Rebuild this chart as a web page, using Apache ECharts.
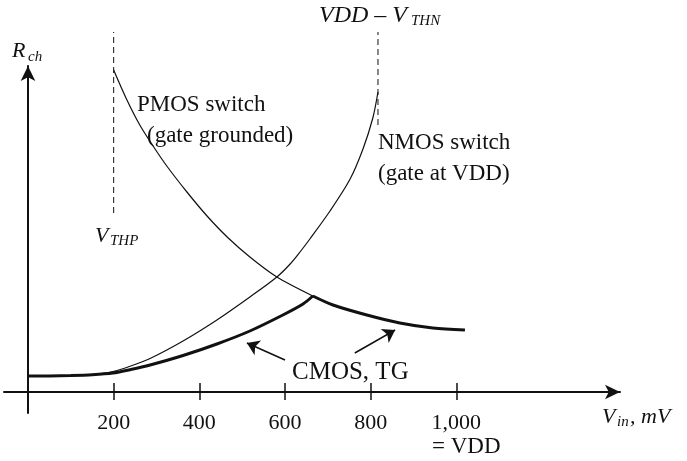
<!DOCTYPE html>
<html>
<head>
<meta charset="utf-8">
<script src="https://cdn.jsdelivr.net/npm/echarts@6/dist/echarts.min.js"></script>
<style>
  html, body { margin: 0; padding: 0; background: #fff; }
  #myChart { width: 687px; height: 461px; }
</style>
</head>
<body>
<div id="myChart"></div>
<script>
// V_in in mV, R_ch in arbitrary units
const nmosV = [0, 50, 100, 150, 198, 240, 285, 362, 441, 518, 581, 612, 635, 658, 705, 752, 782, 805, 817]
const nmosR = [16, 16.1, 16.6, 17.5, 20.5, 26, 33.5, 51, 72, 95, 115, 128, 140, 153, 181, 213, 243, 274, 300]

const pmosV = [200, 231, 261, 292, 324, 371, 418, 465, 518, 581, 665, 712, 791, 868, 945, 1020]
const pmosR = [322, 292, 267, 246, 226, 200, 176, 155, 135, 115, 96, 87, 77, 69, 64, 62]

const cmosV = [0, 50, 100, 150, 198, 240, 285, 362, 441, 518, 595, 642, 665, 712, 791, 868, 945, 1020]
const cmosR = [16, 16.1, 16.5, 17.3, 19, 22.5, 27, 36.5, 48, 61, 77, 88, 96, 87, 77, 69, 64, 62]

const tickValues = [200, 400, 600, 800, 1000]
const tickLabels = ['200', '400', '600', '800', '1,000']

const vthp = 200
const vthpRange = [179, 360]
const vthn = 817
const vthnRange = [267, 360]

// arrows pointing at the CMOS curve: [tail, head]
const tgArrows = [
  [[600, 32], [511, 49]],
  [[763, 39], [857, 62]]
]

const serif = 'Liberation Serif, Times New Roman, serif'
const ink = '#111'

function pairs(xs, ys) {
  return xs.map((x, i) => [x, ys[i]])
}

// split the CMOS curve at its peak so the corner stays sharp
const peak = cmosR.indexOf(Math.max(...cmosR))
const cmos = pairs(cmosV, cmosR)

function txt(x, y, text, size, italic) {
  return {
    type: 'text',
    x: x,
    y: y,
    silent: true,
    style: {
      text: text,
      fill: ink,
      font: (italic ? 'italic ' : '') + size + 'px ' + serif,
      textAlign: 'left',
      textVerticalAlign: 'middle'
    }
  }
}

const thin = { color: ink, width: 1.2 }
const thick = { color: ink, width: 3 }
const dashed = { color: ink, width: 1, type: [6, 4] }

const myChart = echarts.init(document.getElementById('myChart'))
myChart.setOption({
  backgroundColor: '#fff',
  animation: false,
  grid: {
    left: 4,
    right: 67,
    top: 66,
    bottom: 48,
    outerBoundsMode: 'none'
  },
  xAxis: [
    {
      type: 'value',
      min: -56,
      max: 1382,
      axisLine: {
        onZero: true,
        symbol: ['none', 'arrow'],
        symbolSize: [11, 15],
        lineStyle: { color: ink, width: 2 }
      },
      axisTick: {
        show: true,
        customValues: tickValues,
        length: 8,
        lineStyle: { color: ink, width: 1.5 }
      },
      axisLabel: {
        customValues: tickValues,
        margin: -1,
        color: ink,
        fontFamily: serif,
        fontSize: 22,
        formatter: function (v) {
          return tickLabels[tickValues.indexOf(v)]
        }
      },
      splitLine: { show: false }
    },
    {
      // upper half of the tick marks
      type: 'value',
      min: -56,
      max: 1382,
      position: 'bottom',
      offset: -21,
      axisLine: { show: false, onZero: false },
      axisTick: {
        show: true,
        inside: true,
        customValues: tickValues,
        length: 9,
        lineStyle: { color: ink, width: 1.5 }
      },
      axisLabel: { show: false },
      splitLine: { show: false }
    }
  ],
  yAxis: {
    type: 'value',
    min: -21,
    max: 326,
    axisLine: {
      onZero: true,
      symbol: ['none', 'arrow'],
      symbolSize: [11, 15],
      lineStyle: { color: ink, width: 2 }
    },
    axisTick: { show: false },
    axisLabel: { show: false },
    splitLine: { show: false }
  },
  series: [
    {
      name: 'NMOS switch',
      type: 'line',
      data: pairs(nmosV, nmosR),
      smooth: 0.3,
      showSymbol: false,
      lineStyle: thin,
      silent: true
    },
    {
      name: 'PMOS switch',
      type: 'line',
      data: pairs(pmosV, pmosR),
      smooth: 0.3,
      showSymbol: false,
      lineStyle: thin,
      silent: true
    },
    {
      name: 'CMOS rise',
      type: 'line',
      data: cmos.slice(0, peak + 1),
      smooth: 0.3,
      showSymbol: false,
      lineStyle: thick,
      silent: true,
      markLine: {
        silent: true,
        symbol: ['none', 'arrow'],
        symbolSize: 12,
        lineStyle: { color: ink, width: 1.5, type: 'solid' },
        label: { show: false },
        data: tgArrows.map(a => [{ coord: a[0] }, { coord: a[1] }])
      }
    },
    {
      name: 'CMOS fall',
      type: 'line',
      data: cmos.slice(peak),
      smooth: 0.3,
      showSymbol: false,
      lineStyle: thick,
      silent: true
    },
    {
      name: 'VTHP',
      type: 'line',
      data: [[vthp, vthpRange[0]], [vthp, vthpRange[1]]],
      showSymbol: false,
      clip: false,
      lineStyle: dashed,
      silent: true
    },
    {
      name: 'VTHN',
      type: 'line',
      data: [[vthn, vthnRange[0]], [vthn, vthnRange[1]]],
      showSymbol: false,
      clip: false,
      lineStyle: dashed,
      silent: true
    }
  ],
  graphic: [
    txt(12, 51, 'R', 22, true),
    txt(28, 57, 'ch', 15, true),
    txt(319, 16, 'VDD – V', 24, true),
    txt(411, 21, 'THN', 15, true),
    txt(137, 105, 'PMOS switch', 23, false),
    txt(147, 136, '(gate grounded)', 23, false),
    txt(378, 143, 'NMOS switch', 23, false),
    txt(378, 174, '(gate at VDD)', 23, false),
    txt(95, 236, 'V', 22, true),
    txt(110, 241, 'THP', 15, true),
    txt(292, 372, 'CMOS, TG', 25, false),
    txt(432, 447, '= VDD', 23, false),
    txt(602, 417, 'V', 22, true),
    txt(617, 422, 'in', 15, true),
    txt(630, 417, ', mV', 22, true)
  ]
})
</script>
</body>
</html>
